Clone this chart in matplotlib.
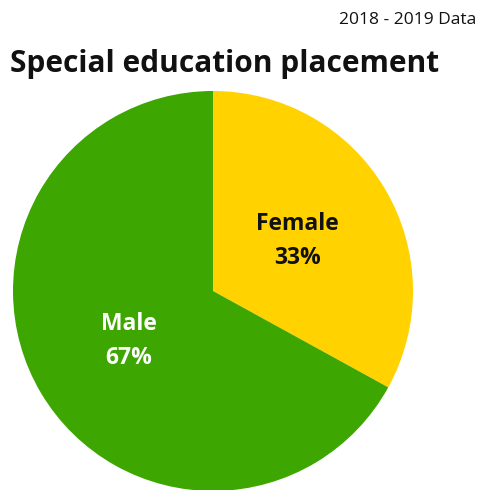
import matplotlib
matplotlib.use("Agg")
import matplotlib.pyplot as plt

categories = ["Female", "Male"]
values = [33, 67]
colors = ["#FFD200", "#3EA600"]
text_colors = ["#111111", "#FFFFFF"]

plt.rcParams["font.family"] = ["Open Sans", "DejaVu Sans"]

fig = plt.figure(figsize=(4.9, 4.9), dpi=100)
fig.text(10 / 490, 1 - 64 / 490, "Special education placement",
         fontsize=21.5, fontweight="bold", ha="left", va="center", color="#111111")
fig.text(476 / 490, 1 - 20 / 490, "2018 - 2019 Data",
         fontsize=12.5, ha="right", va="center", color="#111111")

ax = fig.add_axes([13 / 490, -1 / 490, 400 / 490, 400 / 490])
idx = iter(range(len(values)))


def fmt(pct):
    i = next(idx)
    return f"{categories[i]}\n{pct:.0f}%"


wedges, labels, autotexts = ax.pie(
    values, colors=colors, startangle=90, counterclock=False,
    radius=1.0, pctdistance=0.49, autopct=fmt,
    textprops=dict(fontsize=16.5, fontweight="bold", linespacing=1.55))
for t, c in zip(autotexts, text_colors):
    t.set_color(c)
ax.set_xlim(-1, 1)
ax.set_ylim(-1, 1)
ax.set_aspect("equal")
ax.axis("off")

fig.savefig("out.png", dpi=100)
